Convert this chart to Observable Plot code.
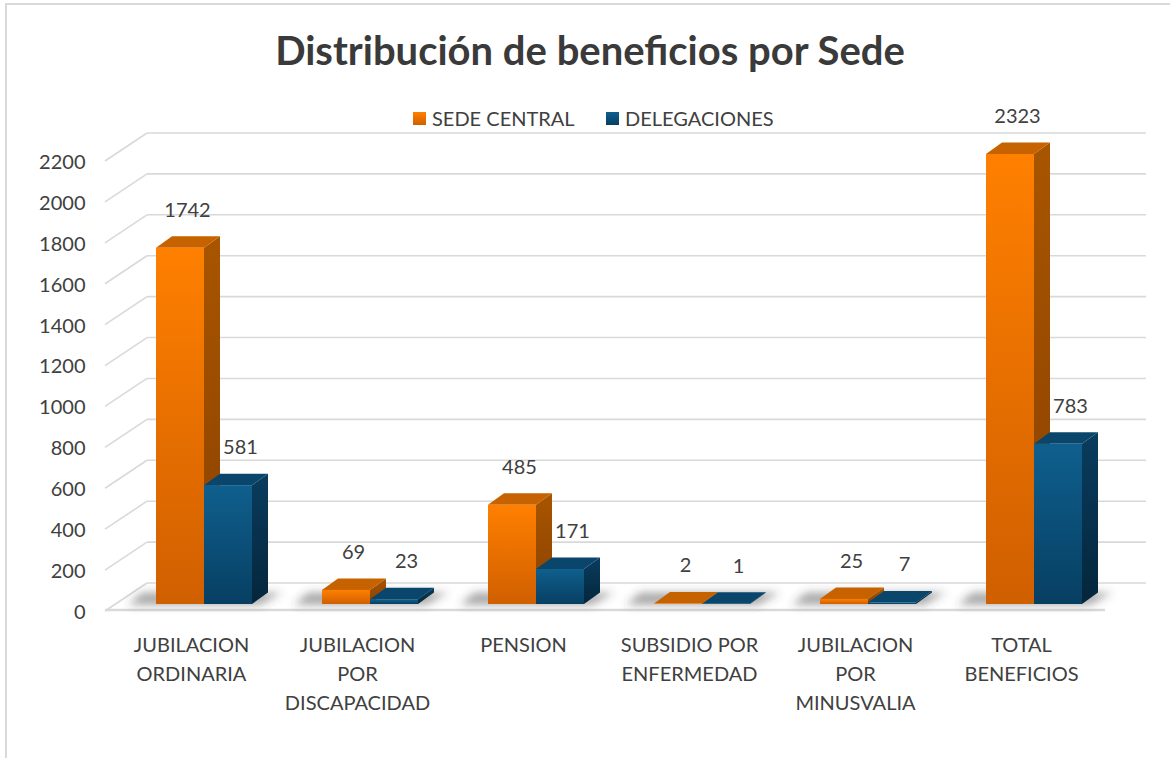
<!DOCTYPE html>
<html>
<head>
<meta charset="utf-8">
<script src="https://cdn.jsdelivr.net/npm/d3@7"></script>
<script src="https://cdn.jsdelivr.net/npm/@observablehq/plot@0.6"></script>
<style>
  body { margin: 0; background: #fff; font-family: Lato, "Open Sans", sans-serif; color: #404040; }
  #frame { position: absolute; left: 5px; top: 3px; width: 1200px; height: 800px; border-left: 2px solid #d9d9d9; border-top: 2px solid #d9d9d9; }
  #title { position: absolute; left: 0; width: 1180px; top: 26px; text-align: center; font-weight: bold; font-size: 40px; line-height: 48px; color: #3a3a3a; }
  .leg { position: absolute; top: 106px; font-size: 20px; line-height: 24px; display: flex; align-items: center; white-space: nowrap; }
  .sw { display: inline-block; width: 13px; height: 13px; margin-right: 6px; }
  #chart { position: absolute; left: 0; top: 100px; }
</style>
</head>
<body>
<div id="frame"></div>
<div id="title">Distribución de beneficios por Sede</div>
<div class="leg" style="left:413px"><span class="sw" style="background:linear-gradient(#ff8000,#d05f00)"></span>SEDE CENTRAL</div>
<div class="leg" style="left:606px"><span class="sw" style="background:linear-gradient(#0f5e8c,#073f63)"></span>DELEGACIONES</div>
<div id="chart"></div>
<script>
// ---- data ----
const categories = ["JUBILACION ORDINARIA", "JUBILACION POR DISCAPACIDAD", "PENSION", "SUBSIDIO POR ENFERMEDAD", "JUBILACION POR MINUSVALIA", "TOTAL BENEFICIOS"];
const categoryLabels = ["JUBILACION\nORDINARIA", "JUBILACION\nPOR\nDISCAPACIDAD", "PENSION", "SUBSIDIO POR\nENFERMEDAD", "JUBILACION\nPOR\nMINUSVALIA", "TOTAL\nBENEFICIOS"];
const sedeCentral = [1742, 69, 485, 2, 25, 2323];
const delegaciones = [581, 23, 171, 1, 7, 783];
const yTicks = [0, 200, 400, 600, 800, 1000, 1200, 1400, 1600, 1800, 2000, 2200];

const data = categories.map((c, i) => ({cat: c, label: categoryLabels[i], sede: sedeCentral[i], deleg: delegaciones[i]}));

// oblique depth of the 3D projection (pixels)
const DX = 16, DY = -11.5;

function defsMark() {
  const defs = d3.create("svg:defs");
  const lg = (id, stops) => {
    const g = defs.append("linearGradient").attr("id", id).attr("x1", 0).attr("y1", 0).attr("x2", 0).attr("y2", 1);
    stops.forEach(([o, c]) => g.append("stop").attr("offset", o).attr("stop-color", c));
  };
  lg("oFront", [[0, "#ff8000"], [1, "#d05f00"]]);
  lg("oSide", [[0, "#a85500"], [1, "#8a4100"]]);
  lg("bFront", [[0, "#0f5f8e"], [1, "#073f62"]]);
  lg("bSide", [[0, "#0a3c5e"], [1, "#04263c"]]);
  defs.append("filter").attr("id", "blur").attr("x", "-50%").attr("y", "-100%").attr("width", "200%").attr("height", "300%")
    .append("feGaussianBlur").attr("stdDeviation", 4);
  return defs.node();
}

function wallsMark(index, scales) {
  const x = scales.x, y = scales.y;
  const [r0, r1] = x.range();
  const g = d3.create("svg:g").attr("stroke", "#d9d9d9").attr("fill", "none");
  yTicks.forEach(t => {
    const yy = y(t);
    g.append("line").attr("x1", r0 + 43).attr("x2", r1 + 12).attr("y1", yy - 21).attr("y2", yy - 21).attr("stroke-width", 1.6);
    g.append("line").attr("x1", r0 + 1).attr("y1", yy + 7).attr("x2", r0 + 43).attr("y2", yy - 21).attr("stroke-width", 1.6);
  });
  const y0 = y(0);
  g.append("line").attr("x1", r0 + 1).attr("x2", r1 - 29).attr("y1", y0 + 6).attr("y2", y0 + 6).attr("stroke-width", 2.5);
  return g.node();
}

function shadowMark(index, scales) {
  const x = scales.x, y = scales.y, bw = x.bandwidth(), yb = y(0);
  const g = d3.create("svg:g").attr("filter", "url(#blur)").attr("fill", "#404040").attr("fill-opacity", 0.45);
  categories.forEach(c => {
    const x0 = x(c), x1 = x0 + bw;
    g.append("polygon").attr("points", [[x0 - 28, yb + 1], [x1 + 8, yb + 1], [x1 + DX + 14, yb + DY], [x0 + DX - 30, yb + DY]].map(p => p.join(",")).join(" "));
  });
  return g.node();
}

function facesMark(index, scales) {
  const x = scales.x, y = scales.y, half = x.bandwidth() / 2, yb = y(0);
  const g = d3.create("svg:g");
  const poly = (pts, fill) => g.append("polygon").attr("points", pts.map(p => p.join(",")).join(" ")).attr("fill", fill);
  categories.forEach((c, i) => {
    [[sedeCentral[i], "url(#oSide)", "#c66200", 0], [delegaciones[i], "url(#bSide)", "#0a466b", 1]].forEach(([v, side, top, k]) => {
      const x0 = x(c) + k * half, x1 = x0 + half, yt = y(v);
      poly([[x1, yb], [x1 + DX, yb + DY], [x1 + DX, yt + DY], [x1, yt]], side);
      poly([[x0, yt], [x0 + DX, yt + DY], [x1 + DX, yt + DY], [x1, yt]], top);
    });
  });
  return g.node();
}

const chart = Plot.plot({
  width: 1170,
  height: 658,
  marginLeft: 104,
  marginRight: 36,
  marginTop: 54,
  marginBottom: 154,
  style: {fontFamily: "Lato, 'Open Sans', sans-serif", fontSize: "20px", color: "#404040", background: "transparent", overflow: "visible"},
  x: {type: "band", domain: categories, paddingInner: 0.4245, paddingOuter: 0.3, axis: null},
  y: {domain: [0, 2200], clamp: true, axis: null},
  marks: [
    defsMark,
    wallsMark,
    shadowMark,
    facesMark,
    Plot.barY(data, {x: "cat", y: "sede", fill: "url(#oFront)", insetRight: 48}),
    Plot.barY(data, {x: "cat", y: "deleg", fill: "url(#bFront)", insetLeft: 48}),
    Plot.text(data, {x: "cat", y: "sede", text: d => String(d.sede), dx: -17, dy: -38, fontSize: 20, fill: "#404040"}),
    Plot.text(data, {x: "cat", y: "deleg", text: d => String(d.deleg), dx: 36, dy: -38, fontSize: 20, fill: "#404040"}),
    Plot.text(yTicks, {y: d => d, text: d => String(d), frameAnchor: "left", textAnchor: "end", dx: -19, dy: 8, fontSize: 20, fill: "#404040"}),
    Plot.text(data, {x: "cat", text: "label", frameAnchor: "bottom", lineAnchor: "top", dy: 27, dx: -13, lineHeight: 1.45, fontSize: 20, fill: "#404040"})
  ]
});
document.getElementById("chart").appendChild(chart);
</script>
</body>
</html>
